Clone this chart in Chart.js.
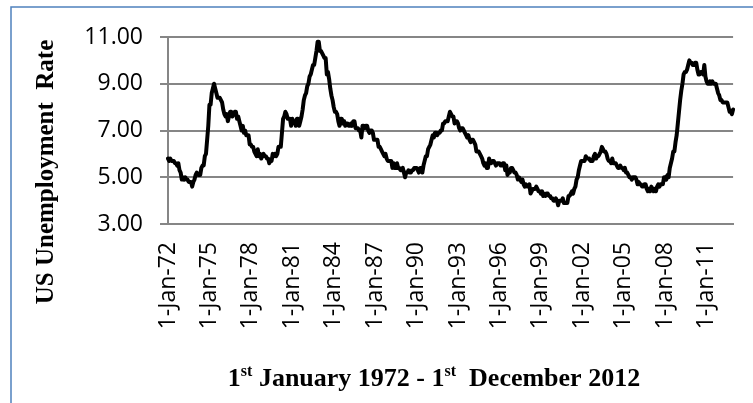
<!DOCTYPE html>
<html>
<head>
<meta charset="utf-8">
<script src="https://cdn.jsdelivr.net/npm/chart.js@4.4.1/dist/chart.umd.min.js"></script>
<style>
html, body { margin: 0; padding: 0; background: #fff; }
canvas { display: block; }
</style>
</head>
<body>
<canvas id="chart" width="753" height="403"></canvas>
<script>
// months and years on the category axis
const monthNames = ['Jan', 'Feb', 'Mar', 'Apr', 'May', 'Jun', 'Jul', 'Aug', 'Sep', 'Oct', 'Nov', 'Dec'];
const years = [];
for (let y = 1972; y <= 2012; y++) years.push(y);

// US unemployment rate, one row per year (Jan..Dec)
const unemploymentRate = [
  5.8, 5.7, 5.8, 5.7, 5.7, 5.7, 5.6, 5.6, 5.5, 5.6, 5.3, 5.2,
  4.9, 5.0, 4.9, 5.0, 4.9, 4.9, 4.8, 4.8, 4.8, 4.6, 4.8, 4.9,
  5.1, 5.2, 5.1, 5.1, 5.1, 5.4, 5.5, 5.5, 5.9, 6.0, 6.6, 7.2,
  8.1, 8.1, 8.6, 8.8, 9.0, 8.8, 8.6, 8.4, 8.4, 8.4, 8.3, 8.2,
  7.9, 7.7, 7.6, 7.7, 7.4, 7.6, 7.8, 7.8, 7.6, 7.7, 7.8, 7.8,
  7.5, 7.6, 7.4, 7.2, 7.0, 7.2, 6.9, 7.0, 6.8, 6.8, 6.8, 6.4,
  6.4, 6.3, 6.3, 6.1, 6.0, 5.9, 6.2, 5.9, 6.0, 5.8, 5.9, 6.0,
  5.9, 5.9, 5.8, 5.8, 5.6, 5.7, 5.7, 6.0, 5.9, 6.0, 5.9, 6.0,
  6.3, 6.3, 6.3, 6.9, 7.5, 7.6, 7.8, 7.7, 7.5, 7.5, 7.5, 7.2,
  7.5, 7.4, 7.4, 7.2, 7.5, 7.5, 7.2, 7.4, 7.6, 7.9, 8.3, 8.5,
  8.6, 8.9, 9.0, 9.3, 9.4, 9.6, 9.8, 9.8, 10.1, 10.4, 10.8, 10.8,
  10.4, 10.4, 10.3, 10.2, 10.1, 10.1, 9.4, 9.5, 9.2, 8.8, 8.5, 8.3,
  8.0, 7.8, 7.8, 7.7, 7.4, 7.2, 7.5, 7.5, 7.3, 7.4, 7.2, 7.3,
  7.3, 7.2, 7.2, 7.3, 7.2, 7.4, 7.4, 7.1, 7.1, 7.1, 7.0, 7.0,
  6.7, 7.2, 7.2, 7.1, 7.2, 7.2, 7.0, 6.9, 7.0, 7.0, 6.9, 6.6,
  6.6, 6.6, 6.6, 6.3, 6.3, 6.2, 6.1, 6.0, 5.9, 6.0, 5.8, 5.7,
  5.7, 5.7, 5.7, 5.4, 5.6, 5.4, 5.4, 5.6, 5.4, 5.4, 5.3, 5.3,
  5.4, 5.2, 5.0, 5.2, 5.2, 5.3, 5.2, 5.2, 5.3, 5.3, 5.4, 5.4,
  5.4, 5.3, 5.2, 5.4, 5.4, 5.2, 5.5, 5.7, 5.9, 5.9, 6.2, 6.3,
  6.4, 6.6, 6.8, 6.7, 6.9, 6.9, 6.8, 6.9, 6.9, 7.0, 7.0, 7.3,
  7.3, 7.4, 7.4, 7.4, 7.6, 7.8, 7.7, 7.6, 7.6, 7.3, 7.4, 7.4,
  7.3, 7.1, 7.0, 7.1, 7.1, 7.0, 6.9, 6.8, 6.7, 6.8, 6.6, 6.5,
  6.6, 6.6, 6.5, 6.4, 6.1, 6.1, 6.1, 6.0, 5.9, 5.8, 5.6, 5.5,
  5.6, 5.4, 5.4, 5.8, 5.6, 5.6, 5.7, 5.7, 5.6, 5.5, 5.6, 5.6,
  5.6, 5.5, 5.5, 5.6, 5.6, 5.3, 5.5, 5.1, 5.2, 5.2, 5.4, 5.4,
  5.3, 5.2, 5.2, 5.1, 4.9, 5.0, 4.9, 4.8, 4.9, 4.7, 4.6, 4.7,
  4.6, 4.6, 4.7, 4.3, 4.4, 4.5, 4.5, 4.5, 4.6, 4.5, 4.4, 4.4,
  4.3, 4.4, 4.2, 4.3, 4.2, 4.3, 4.3, 4.2, 4.2, 4.1, 4.1, 4.0,
  4.0, 4.1, 4.0, 3.8, 4.0, 4.0, 4.0, 4.1, 3.9, 3.9, 3.9, 3.9,
  4.2, 4.2, 4.3, 4.4, 4.3, 4.5, 4.6, 4.9, 5.0, 5.3, 5.5, 5.7,
  5.7, 5.7, 5.7, 5.9, 5.8, 5.8, 5.8, 5.7, 5.7, 5.7, 5.9, 6.0,
  5.8, 5.9, 5.9, 6.0, 6.1, 6.3, 6.2, 6.1, 6.1, 6.0, 5.8, 5.7,
  5.7, 5.6, 5.8, 5.6, 5.6, 5.6, 5.5, 5.4, 5.4, 5.5, 5.4, 5.4,
  5.3, 5.4, 5.2, 5.2, 5.1, 5.0, 5.0, 4.9, 5.0, 5.0, 5.0, 4.9,
  4.7, 4.8, 4.7, 4.7, 4.6, 4.6, 4.7, 4.7, 4.5, 4.4, 4.5, 4.4,
  4.6, 4.5, 4.4, 4.5, 4.4, 4.6, 4.7, 4.6, 4.7, 4.7, 4.7, 5.0,
  5.0, 4.9, 5.1, 5.0, 5.4, 5.6, 5.8, 6.1, 6.1, 6.5, 6.8, 7.3,
  7.8, 8.3, 8.7, 9.0, 9.4, 9.5, 9.5, 9.6, 9.8, 10.0, 9.9, 9.9,
  9.8, 9.8, 9.9, 9.9, 9.6, 9.4, 9.4, 9.5, 9.5, 9.4, 9.8, 9.3,
  9.1, 9.0, 9.0, 9.1, 9.0, 9.1, 9.0, 9.0, 9.0, 8.8, 8.6, 8.5,
  8.3, 8.3, 8.2, 8.2, 8.2, 8.2, 8.2, 8.0, 7.8, 7.8, 7.7, 7.9
];

// y axis ticks and titles
const yTicks = [3, 5, 7, 9, 11];
const yTitle = 'US Unemployment  Rate';
const xTitleParts = [
  { text: '1', sup: false },
  { text: 'st', sup: true },
  { text: ' January 1972 - 1', sup: false },
  { text: 'st', sup: true },
  { text: '  December 2012', sup: false }
];

const labels = [];
years.forEach(y => {
  monthNames.forEach(m => labels.push('1-' + m + '-' + String(y).slice(2)));
});

// frame and the two axis titles (with superscripts)
const frameAndTitles = {
  id: 'frameAndTitles',
  beforeDraw(chart) {
    const ctx = chart.ctx;
    ctx.save();
    ctx.fillStyle = '#fff';
    ctx.fillRect(0, 0, chart.width, chart.height);
    ctx.strokeStyle = '#4f81bd';
    ctx.lineWidth = 1.5;
    ctx.strokeRect(11, 7, 900, 600);
    ctx.restore();
  },
  afterDraw(chart) {
    const ctx = chart.ctx;
    ctx.save();
    ctx.fillStyle = '#000';
    ctx.font = 'bold 25px "Liberation Serif"';
    ctx.translate(53, 172);
    ctx.rotate(-Math.PI / 2);
    ctx.textAlign = 'center';
    ctx.textBaseline = 'alphabetic';
    ctx.fillText(yTitle, 0, 0);
    ctx.restore();

    ctx.save();
    ctx.fillStyle = '#000';
    ctx.textBaseline = 'alphabetic';
    ctx.textAlign = 'left';
    const big = 'bold 26px "Liberation Serif"';
    const small = 'bold 16px "Liberation Serif"';
    let total = 0;
    xTitleParts.forEach(p => {
      ctx.font = p.sup ? small : big;
      p.w = ctx.measureText(p.text).width;
      total += p.w;
    });
    let x = 434 - total / 2;
    xTitleParts.forEach(p => {
      ctx.font = p.sup ? small : big;
      ctx.fillText(p.text, x, p.sup ? 376 : 386);
      x += p.w;
    });
    ctx.restore();
  }
};

const ctx = document.getElementById('chart').getContext('2d');
const chart = new Chart(ctx, {
  type: 'line',
  data: {
    labels: labels,
    datasets: [{
      data: unemploymentRate,
      borderColor: '#000',
      borderWidth: 4,
      borderJoinStyle: 'round',
      borderCapStyle: 'round',
      pointRadius: 0,
      tension: 0,
      fill: false
    }]
  },
  options: {
    responsive: false,
    animation: false,
    layout: { padding: { left: 0, right: 17, top: 37, bottom: 0 } },
    plugins: { legend: { display: false }, tooltip: { enabled: false } },
    scales: {
      x: {
        type: 'category',
        offset: false,
        grid: { display: false, drawTicks: false },
        border: { display: true, color: '#868686', width: 2 },
        ticks: {
          autoSkip: false,
          minRotation: 90,
          maxRotation: 90,
          padding: 18,
          color: '#000',
          font: { family: '"Open Sans"', size: 23 },
          callback: function (value, index) {
            return index % 36 === 0 ? this.getLabelForValue(value) : null;
          }
        },
        afterFit: s => { s.height = 179; }
      },
      y: {
        min: 3,
        max: 11,
        afterBuildTicks: s => { s.ticks = yTicks.map(v => ({ value: v })); },
        grid: { color: '#868686', lineWidth: 2, tickLength: 8 },
        border: { display: true, color: '#868686', width: 2 },
        ticks: {
          padding: 17,
          color: '#000',
          font: { family: '"Open Sans"', size: 23 },
          callback: v => v.toFixed(2)
        },
        afterFit: s => { s.width = 168; }
      }
    }
  },
  plugins: [frameAndTitles]
});
</script>
</body>
</html>
